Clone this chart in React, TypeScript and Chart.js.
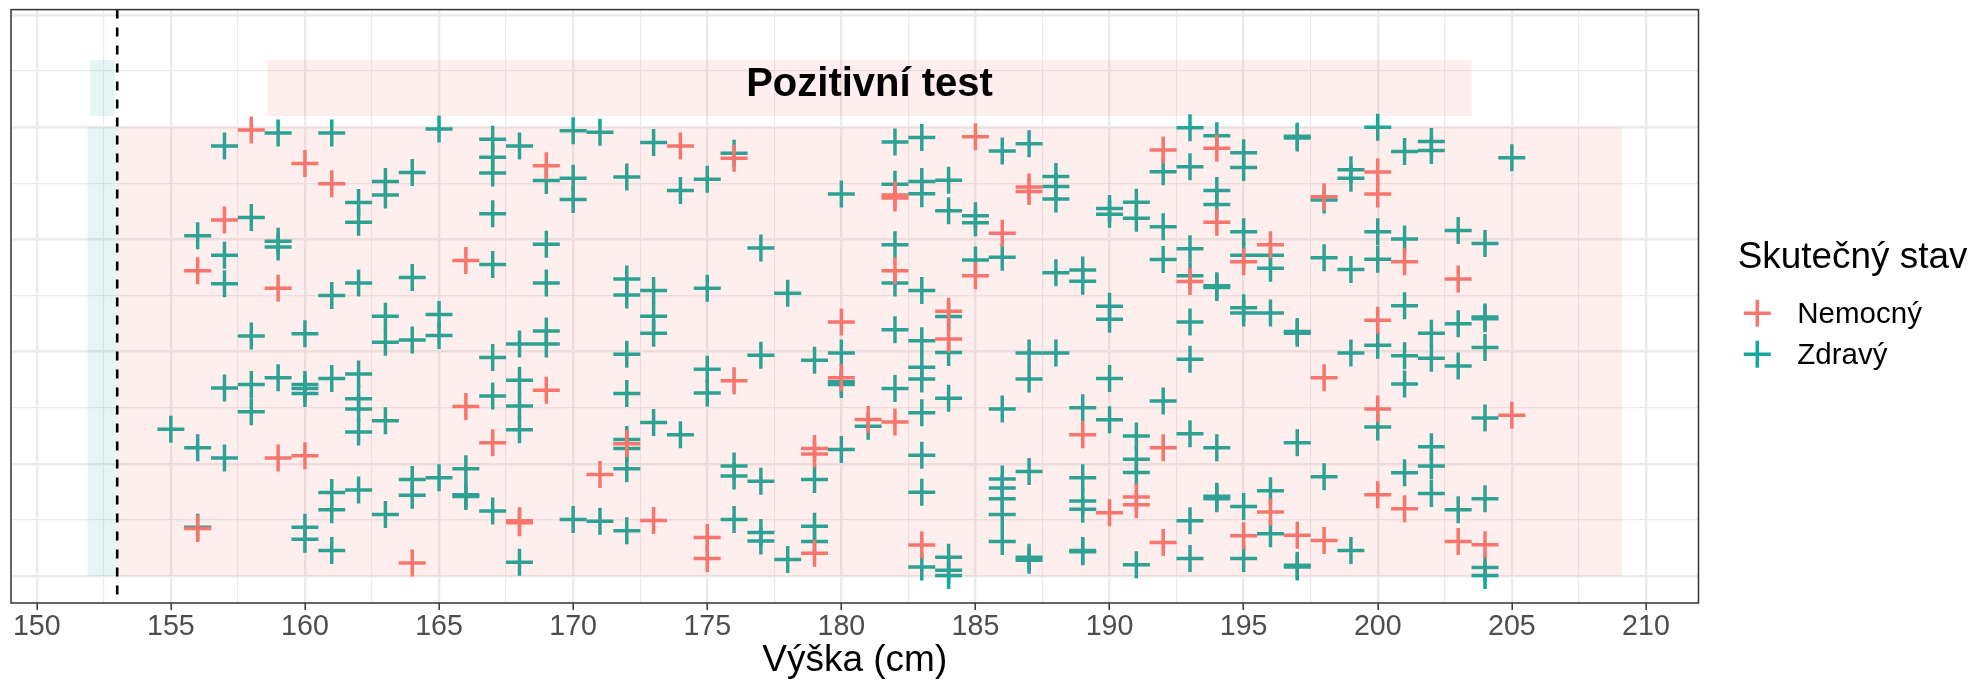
import React, { useEffect, useRef } from "react";
import { Chart, registerables } from "chart.js";

Chart.register(...registerables);

// ---------------- data ----------------
const seriesNames = ["Nemocný", "Zdravý"];
const legendTitle = "Skutečný stav";
const xTitle = "Výška (cm)";
const bandLabel = "Pozitivní test";

// [height cm, jittered vertical position]
const nemocny: [number, number][] = [
  [156, 0.68], [156, 0.106], [157, 0.793], [158, 0.994], [159, 0.641], [159, 0.263],
  [160, 0.919], [160, 0.268], [161, 0.874], [164, 0.029], [166, 0.703], [166, 0.378],
  [167, 0.297], [168, 0.123], [168, 0.119], [169, 0.914], [169, 0.414], [171, 0.226],
  [172, 0.295], [173, 0.124], [174, 0.958], [175, 0.086], [175, 0.039], [176, 0.931],
  [176, 0.435], [179, 0.284], [179, 0.272], [179, 0.051], [180, 0.566], [180, 0.442],
  [181, 0.349], [182, 0.849], [182, 0.842], [182, 0.68], [182, 0.343], [183, 0.069],
  [184, 0.59], [184, 0.528], [185, 0.979], [185, 0.669], [186, 0.764], [187, 0.867],
  [187, 0.857], [189, 0.315], [190, 0.141], [191, 0.176], [191, 0.159], [192, 0.949],
  [192, 0.286], [192, 0.075], [193, 0.656], [194, 0.953], [194, 0.788], [195, 0.7],
  [195, 0.09], [196, 0.738], [196, 0.143], [197, 0.091], [198, 0.845], [198, 0.442],
  [198, 0.079], [200, 0.9], [200, 0.851], [200, 0.57], [200, 0.372], [200, 0.181],
  [201, 0.7], [201, 0.15], [203, 0.662], [203, 0.077], [204, 0.07], [205, 0.358],
];

const zdravy: [number, number][] = [
  [155, 0.327],
  [156, 0.758], [156, 0.286], [156, 0.109],
  [157, 0.958], [157, 0.715], [157, 0.651], [157, 0.419], [157, 0.263],
  [158, 0.799], [158, 0.535], [158, 0.427], [158, 0.366],
  [159, 0.987], [159, 0.746], [159, 0.733], [159, 0.442],
  [160, 0.54], [160, 0.427], [160, 0.418], [160, 0.407], [160, 0.109], [160, 0.082],
  [161, 0.987], [161, 0.625], [161, 0.44], [161, 0.186], [161, 0.148], [161, 0.057],
  [162, 0.832], [162, 0.788], [162, 0.653], [162, 0.45], [162, 0.395], [162, 0.372], [162, 0.321], [162, 0.192],
  [163, 0.879], [163, 0.849], [163, 0.579], [163, 0.521], [163, 0.346], [163, 0.137],
  [164, 0.899], [164, 0.665], [164, 0.526], [164, 0.215], [164, 0.18],
  [165, 0.996], [165, 0.583], [165, 0.536], [165, 0.219],
  [166, 0.239], [166, 0.181], [166, 0.177],
  [167, 0.973], [167, 0.933], [167, 0.898], [167, 0.807], [167, 0.694], [167, 0.487], [167, 0.401], [167, 0.145],
  [168, 0.958], [168, 0.517], [168, 0.436], [168, 0.379], [168, 0.326], [168, 0.031],
  [169, 0.881], [169, 0.739], [169, 0.653], [169, 0.546], [169, 0.517],
  [170, 0.992], [170, 0.886], [170, 0.839], [170, 0.126],
  [171, 0.989], [171, 0.122],
  [172, 0.889], [172, 0.662], [172, 0.626], [172, 0.494], [172, 0.407], [172, 0.304], [172, 0.284], [172, 0.239], [172, 0.101],
  [173, 0.966], [173, 0.636], [173, 0.579], [173, 0.541], [173, 0.342],
  [174, 0.859], [174, 0.315],
  [175, 0.884], [175, 0.641], [175, 0.461], [175, 0.408],
  [176, 0.942], [176, 0.245], [176, 0.223], [176, 0.126],
  [177, 0.731], [177, 0.492], [177, 0.211], [177, 0.097], [177, 0.078],
  [178, 0.63], [178, 0.037],
  [179, 0.481], [179, 0.215], [179, 0.111], [179, 0.077],
  [180, 0.851], [180, 0.497], [180, 0.433], [180, 0.427], [180, 0.282],
  [181, 0.334],
  [182, 0.967], [182, 0.873], [182, 0.738], [182, 0.653], [182, 0.549], [182, 0.418],
  [183, 0.977], [183, 0.879], [183, 0.852], [183, 0.636], [183, 0.524], [183, 0.465], [183, 0.439], [183, 0.364], [183, 0.269], [183, 0.187], [183, 0.02],
  [184, 0.882], [184, 0.814], [184, 0.578], [184, 0.498], [184, 0.396], [184, 0.042], [184, 0.013], [184, 0.001],
  [185, 0.803], [185, 0.787], [185, 0.704],
  [186, 0.947], [186, 0.71], [186, 0.372], [186, 0.216], [186, 0.196], [186, 0.172], [186, 0.137], [186, 0.077],
  [187, 0.963], [187, 0.497], [187, 0.439], [187, 0.233], [187, 0.042], [187, 0.035],
  [188, 0.89], [188, 0.868], [188, 0.84], [188, 0.676], [188, 0.497],
  [189, 0.682], [189, 0.657], [189, 0.375], [189, 0.219], [189, 0.167], [189, 0.149], [189, 0.057], [189, 0.054],
  [190, 0.819], [190, 0.806], [190, 0.601], [190, 0.572], [190, 0.44], [190, 0.348],
  [191, 0.833], [191, 0.797], [191, 0.312], [191, 0.26], [191, 0.231], [191, 0.025],
  [192, 0.901], [192, 0.778], [192, 0.705], [192, 0.39],
  [193, 0.999], [193, 0.912], [193, 0.729], [193, 0.669], [193, 0.566], [193, 0.483], [193, 0.317], [193, 0.123], [193, 0.039],
  [194, 0.981], [194, 0.859], [194, 0.828], [194, 0.647], [194, 0.643], [194, 0.286], [194, 0.178], [194, 0.172],
  [195, 0.943], [195, 0.91], [195, 0.767], [195, 0.715], [195, 0.598], [195, 0.586], [195, 0.155], [195, 0.039],
  [196, 0.715], [196, 0.686], [196, 0.586], [196, 0.19], [196, 0.094],
  [197, 0.98], [197, 0.976], [197, 0.545], [197, 0.541], [197, 0.297], [197, 0.024], [197, 0.02],
  [198, 0.838], [198, 0.709], [198, 0.221],
  [199, 0.905], [199, 0.886], [199, 0.683], [199, 0.497], [199, 0.057],
  [200, 1.0], [200, 0.767], [200, 0.706], [200, 0.514], [200, 0.332],
  [201, 0.946], [201, 0.751], [201, 0.602], [201, 0.491], [201, 0.428], [201, 0.23],
  [202, 0.968], [202, 0.948], [202, 0.541], [202, 0.485], [202, 0.288], [202, 0.245], [202, 0.184],
  [203, 0.77], [203, 0.562], [203, 0.468], [203, 0.148],
  [204, 0.741], [204, 0.577], [204, 0.573], [204, 0.509], [204, 0.352], [204, 0.172], [204, 0.019], [204, 0.001],
  [205, 0.932],
];

const xTicks = [150, 152.5, 155, 157.5, 160, 162.5, 165, 167.5, 170, 172.5, 175, 177.5, 180, 182.5, 185, 187.5, 190, 192.5, 195, 197.5, 200, 202.5, 205, 207.5, 210];
const yGrid = [0, 0.125, 0.25, 0.375, 0.5, 0.625, 0.75, 0.875, 1, 1.125, 1.25];
const threshold = 153;

// ---------------- styles ----------------
const FONT = "'Liberation Sans', Arial, Helvetica, sans-serif";
const RED = "#F8766D";
const TEAL = "#12A89A";
const PINK_FILL = "rgba(248,118,109,0.12)";
const GREEN_FILL = "rgba(0,160,135,0.10)";
const GRID = "#EBEBEB";

const bands = [
  { x0: 151.9, x1: 153, y0: 0, y1: 1, fill: GREEN_FILL },
  { x0: 153, x1: 209.1, y0: 0, y1: 1, fill: PINK_FILL },
  { x0: 152.0, x1: 152.9, y0: 1.025, y1: 1.15, fill: GREEN_FILL },
  { x0: 158.6, x1: 203.5, y0: 1.025, y1: 1.15, fill: PINK_FILL },
];

const overlayPlugin = {
  id: "overlay",
  afterDatasetsDraw(chart: any) {
    const { ctx, chartArea: a, scales } = chart;
    const xs = scales.x;
    const ys = scales.y;
    ctx.save();
    ctx.beginPath();
    ctx.rect(a.left, a.top, a.right - a.left, a.bottom - a.top);
    ctx.clip();
    for (const b of bands) {
      const px0 = xs.getPixelForValue(b.x0);
      const px1 = xs.getPixelForValue(b.x1);
      const py0 = ys.getPixelForValue(b.y0);
      const py1 = ys.getPixelForValue(b.y1);
      ctx.fillStyle = b.fill;
      ctx.fillRect(px0, py1, px1 - px0, py0 - py1);
    }
    // threshold line
    const tx = xs.getPixelForValue(threshold);
    ctx.strokeStyle = "#000";
    ctx.lineWidth = 2.6;
    ctx.setLineDash([9, 9]);
    ctx.beginPath();
    ctx.moveTo(tx, a.top);
    ctx.lineTo(tx, a.bottom);
    ctx.stroke();
    ctx.setLineDash([]);
    // band label
    ctx.fillStyle = "#000";
    ctx.font = `bold 40px ${FONT}`;
    ctx.textAlign = "center";
    ctx.textBaseline = "alphabetic";
    ctx.fillText(bandLabel, xs.getPixelForValue(181.05), ys.getPixelForValue(1.07));
    ctx.restore();
    // panel border
    ctx.save();
    ctx.strokeStyle = "#333333";
    ctx.lineWidth = 1.5;
    ctx.strokeRect(a.left, a.top, a.right - a.left, a.bottom - a.top);
    ctx.restore();
  },
  afterDraw(chart: any) {
    const { ctx } = chart;
    ctx.save();
    ctx.fillStyle = "#000";
    ctx.textAlign = "left";
    ctx.textBaseline = "alphabetic";
    ctx.font = `36.9px ${FONT}`;
    ctx.fillText(legendTitle, 1737.7, 268.3);
    const colors = [RED, TEAL];
    const rows = [313.3, 354.3];
    seriesNames.forEach((name, i) => {
      const cx = 1757.3;
      const cy = rows[i];
      ctx.strokeStyle = colors[i];
      ctx.lineWidth = 3.5;
      ctx.beginPath();
      ctx.moveTo(cx - 13.5, cy);
      ctx.lineTo(cx + 13.5, cy);
      ctx.moveTo(cx, cy - 13.5);
      ctx.lineTo(cx, cy + 13.5);
      ctx.stroke();
      ctx.fillStyle = "#000";
      ctx.font = `29.5px ${FONT}`;
      ctx.fillText(name, 1797.3, cy + 10.1);
    });
    ctx.restore();
  },
};

export default function App() {
  const ref = useRef<HTMLCanvasElement | null>(null);

  useEffect(() => {
    const canvas = ref.current;
    if (!canvas) return;
    const toPts = (arr: [number, number][]) => arr.map(([x, y]) => ({ x, y }));
    const chart = new Chart(canvas, {
      type: "scatter",
      data: {
        datasets: [
          {
            label: seriesNames[0],
            data: toPts(nemocny),
            pointStyle: "cross",
            pointRadius: 13.5,
            pointHoverRadius: 13.5,
            pointBorderWidth: 3.5,
            borderColor: RED,
            backgroundColor: RED,
          },
          {
            label: seriesNames[1],
            data: toPts(zdravy),
            pointStyle: "cross",
            pointRadius: 13.5,
            pointHoverRadius: 13.5,
            pointBorderWidth: 3.5,
            borderColor: TEAL,
            backgroundColor: TEAL,
          },
        ],
      },
      options: {
        animation: false,
        responsive: false,
        devicePixelRatio: 1,
        events: [],
        layout: { autoPadding: false, padding: { left: 11, right: 278.5, top: 9.6, bottom: 0 } },
        plugins: { legend: { display: false }, tooltip: { enabled: false } },
        scales: {
          x: {
            type: "linear",
            min: 149.04,
            max: 211.96,
            afterBuildTicks: (s: any) => {
              s.ticks = xTicks.map((v) => ({ value: v }));
            },
            afterFit: (s: any) => {
              s.height = 80;
            },
            border: { display: false },
            grid: {
              color: GRID,
              lineWidth: (c: any) => (c.tick && c.tick.value % 5 === 0 ? 2.4 : 1.2),
              drawTicks: true,
              tickLength: 7,
              tickWidth: 1.5,
              tickColor: (c: any) => (c.tick && c.tick.value % 5 === 0 ? "#333333" : "rgba(0,0,0,0)"),
            },
            ticks: {
              autoSkip: false,
              maxRotation: 0,
              padding: 0,
              color: "#4D4D4D",
              font: { family: FONT, size: 28.6 },
              callback: (v: any) => (Number(v) % 5 === 0 ? String(v) : ""),
            },
            title: {
              display: true,
              text: xTitle,
              color: "#000",
              font: { family: FONT, size: 37 },
              padding: { top: 0, bottom: 0 },
            },
          },
          y: {
            type: "linear",
            min: -0.06,
            max: 1.262,
            afterBuildTicks: (s: any) => {
              s.ticks = yGrid.map((v) => ({ value: v }));
            },
            afterFit: (s: any) => {
              s.width = 0;
            },
            border: { display: false },
            grid: {
              color: GRID,
              lineWidth: (c: any) => (c.tick && Math.abs((c.tick.value * 4) - Math.round(c.tick.value * 4)) < 1e-6 ? 2.4 : 1.2),
              drawTicks: false,
            },
            ticks: { display: false },
          },
        },
      },
      plugins: [overlayPlugin],
    });
    return () => chart.destroy();
  }, []);

  return (
    <div style={{ position: "absolute", left: 0, top: 0, width: 1977, height: 683, background: "#fff" }}>
      <canvas ref={ref} width={1977} height={683} style={{ display: "block" }} />
    </div>
  );
}
